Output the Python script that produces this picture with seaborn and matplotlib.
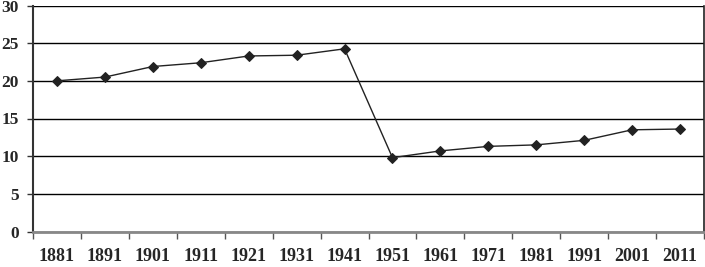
import numpy as np
import pandas as pd
import seaborn as sns
import matplotlib.pyplot as plt
from matplotlib.ticker import FixedLocator

years = ['1881', '1891', '1901', '1911', '1921', '1931', '1941',
         '1951', '1961', '1971', '1981', '1991', '2001', '2011']
values = [20.0, 20.5, 21.9, 22.4, 23.3, 23.4, 24.25,
          9.8, 10.7, 11.3, 11.5, 12.1, 13.5, 13.6]

df = pd.DataFrame({'pos': np.arange(len(years)), 'year': years, 'value': values})

sns.set_style('white')
plt.rcParams['font.family'] = ['Liberation Serif', 'DejaVu Serif']
plt.rcParams['font.weight'] = 'bold'

fig = plt.figure(figsize=(7.05, 2.67), dpi=100)
ax = fig.add_axes([33 / 705, 1 - 231.5 / 267, 671 / 705, 226 / 267])

sns.lineplot(data=df, x='pos', y='value', ax=ax, color='#222222',
             linewidth=1.0, marker='D', markersize=5.5,
             markeredgecolor='#222222', markerfacecolor='#222222')

ax.set_xlim(-0.5, len(years) - 0.5)
ax.set_ylim(0, 30)
ax.set_yticks([0, 5, 10, 15, 20, 25, 30])
ax.yaxis.grid(True, color='black', linewidth=1.0)
ax.set_axisbelow(True)

ax.set_xticks(df['pos'])
ax.set_xticklabels(years, fontsize=13, fontweight='bold')
ax.xaxis.set_minor_locator(FixedLocator(np.arange(-0.5, len(years), 1.0)))
ax.tick_params(axis='x', which='major', length=0, pad=12)
ax.tick_params(axis='x', which='minor', length=5, width=1.0, color='#555555',
               direction='out', bottom=True)
ax.tick_params(axis='y', length=4, width=1.0, color='#333333', direction='out',
               left=True, pad=6, labelsize=12.5)
for lab in ax.get_yticklabels():
    lab.set_fontweight('bold')

ax.set_xlabel('')
ax.set_ylabel('')

ax.spines['top'].set_visible(False)
ax.spines['right'].set_color('#222222')
ax.spines['right'].set_linewidth(1.2)
ax.spines['left'].set_color('#333333')
ax.spines['left'].set_linewidth(1.5)
ax.spines['bottom'].set_color('#888888')
ax.spines['bottom'].set_linewidth(2.0)

fig.savefig('out.png', dpi=100)
